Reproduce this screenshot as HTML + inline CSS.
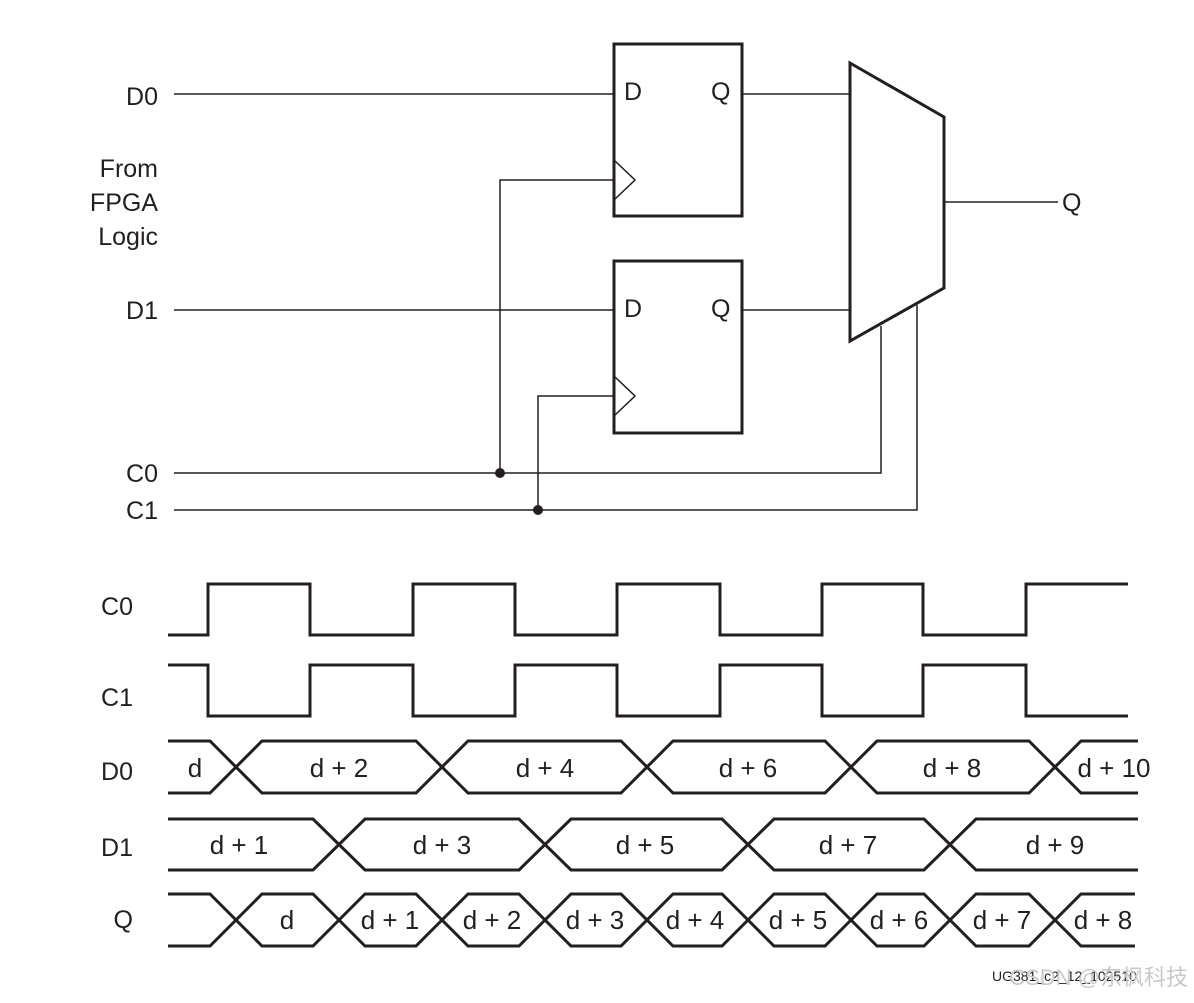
<!DOCTYPE html>
<html><head><style>
html,body{margin:0;padding:0;background:#fff;}
svg text{font-family:"Liberation Sans",Arial,sans-serif;fill:#231f20;}
</style></head><body>
<svg width="1194" height="998" viewBox="0 0 1194 998" xmlns="http://www.w3.org/2000/svg">
<g stroke="#231f20" fill="none">
<!-- thin wires -->
<g stroke-width="1.5">
<line x1="174" y1="94" x2="614" y2="94"/>
<line x1="174" y1="310" x2="614" y2="310"/>
<line x1="742" y1="94" x2="850" y2="94"/>
<line x1="742" y1="310" x2="850" y2="310"/>
<line x1="944" y1="202" x2="1058" y2="202"/>
<polyline points="174,473 881,473 881,326"/>
<polyline points="174,510 917,510 917,305"/>
<polyline points="500,473 500,180 614,180"/>
<polyline points="538,510 538,396 614,396"/>
<polyline points="614,160 635,180 614,200"/>
<polyline points="614,376 635,396 614,416"/>
</g>
<!-- boxes -->
<g stroke-width="3">
<rect x="614" y="44" width="128" height="172"/>
<rect x="614" y="261" width="128" height="172"/>
<polygon points="850,63 944,117 944,288 850,341"/>
<!-- clocks -->
<polyline points="168,635 208,635 208,584 310,584 310,635 413,635 413,584 515,584 515,635 617,635 617,584 720,584 720,635 822,635 822,584 923,584 923,635 1026,635 1026,584 1128,584"/>
<polyline points="168,665 208,665 208,716 310,716 310,665 413,665 413,716 515,716 515,665 617,665 617,716 720,716 720,665 822,665 822,716 923,716 923,665 1026,665 1026,716 1128,716"/>
<!-- D0 -->
<polyline points="168,741 210,741 262,793 416,793 468,741 621,741 673,793 825,793 877,741 1029,741 1081,793 1138,793"/>
<polyline points="168,793 210,793 262,741 416,741 468,793 621,793 673,741 825,741 877,793 1029,793 1081,741 1138,741"/>
<!-- D1 -->
<polyline points="168,819 313,819 365,870 519,870 571,819 722,819 774,870 924,870 976,819 1138,819"/>
<polyline points="168,870 313,870 365,819 519,819 571,870 722,870 774,819 924,819 976,870 1138,870"/>
<!-- Q -->
<polyline points="168,894 210,894 262,946 313,946 365,894 416,894 468,946 519,946 571,894 621,894 673,946 722,946 774,894 825,894 877,946 924,946 976,894 1029,894 1081,946 1135,946"/>
<polyline points="168,946 210,946 262,894 313,894 365,946 416,946 468,894 519,894 571,946 621,946 673,894 722,894 774,946 825,946 877,894 924,894 976,946 1029,946 1081,894 1135,894"/>
</g>
</g>
<circle cx="500" cy="473" r="5" fill="#231f20"/>
<circle cx="538" cy="510" r="5" fill="#231f20"/>
<g font-size="25">
<text x="158" y="105" text-anchor="end">D0</text>
<text x="158" y="177" text-anchor="end">From</text>
<text x="158" y="211" text-anchor="end">FPGA</text>
<text x="158" y="245" text-anchor="end">Logic</text>
<text x="158" y="319" text-anchor="end">D1</text>
<text x="158" y="482" text-anchor="end">C0</text>
<text x="158" y="519" text-anchor="end">C1</text>
<text x="624" y="100">D</text>
<text x="711" y="100">Q</text>
<text x="624" y="317">D</text>
<text x="711" y="317">Q</text>
<text x="1062" y="211">Q</text>
<text x="133" y="615" text-anchor="end">C0</text>
<text x="133" y="706" text-anchor="end">C1</text>
<text x="133" y="780" text-anchor="end">D0</text>
<text x="133" y="856" text-anchor="end">D1</text>
<text x="133" y="928" text-anchor="end">Q</text>
</g>
<g font-size="26" text-anchor="middle">
<text x="195" y="777">d</text>
<text x="339" y="777">d + 2</text>
<text x="545" y="777">d + 4</text>
<text x="748" y="777">d + 6</text>
<text x="952" y="777">d + 8</text>
<text x="1114" y="777">d + 10</text>
<text x="239" y="854">d + 1</text>
<text x="442" y="854">d + 3</text>
<text x="645" y="854">d + 5</text>
<text x="848" y="854">d + 7</text>
<text x="1055" y="854">d + 9</text>
<text x="287" y="929">d</text>
<text x="390" y="929">d + 1</text>
<text x="492" y="929">d + 2</text>
<text x="595" y="929">d + 3</text>
<text x="695" y="929">d + 4</text>
<text x="798" y="929">d + 5</text>
<text x="899" y="929">d + 6</text>
<text x="1002" y="929">d + 7</text>
<text x="1103" y="929">d + 8</text>
</g>
<text x="992" y="981" font-size="14">UG381_c2_12_102510</text>
<text x="1188" y="985" font-size="22" text-anchor="end" style="fill:#c8c8c8;font-family:'Liberation Sans','Noto Sans CJK SC',sans-serif">CSDN @东枫科技</text>
</svg>
</body></html>
